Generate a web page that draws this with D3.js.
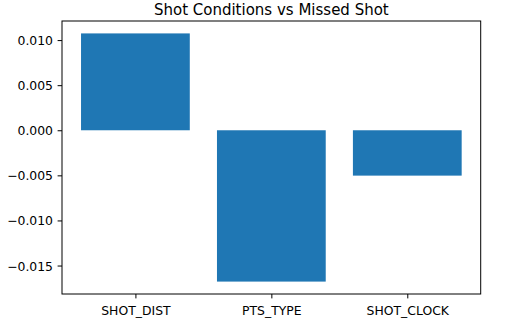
<!DOCTYPE html>
<html><head><meta charset="utf-8">
<script src="https://cdn.jsdelivr.net/npm/d3@7"></script>
<style>body{margin:0;background:#fff}svg{display:block}</style>
</head><body>
<script>
const categories = ["SHOT_DIST", "PTS_TYPE", "SHOT_CLOCK"];
const values = [0.01074, -0.01678, -0.00503];
const yTicks = [-0.015, -0.010, -0.005, 0.000, 0.005, 0.010];
const title = "Shot Conditions vs Missed Shot";

const W = 518, H = 334;
const m = {left: 62, top: 21, right: 518 - 480.7, bottom: 334 - 294};
const svg = d3.select("body").append("svg").attr("width", W).attr("height", H);
const iw = W - m.left - m.right, ih = H - m.top - m.bottom;
const g = svg.append("g").attr("transform", `translate(${m.left},${m.top})`);

const ymin = d3.min(values.concat([0])), ymax = d3.max(values.concat([0]));
const pad = (ymax - ymin) * 0.05;
const y = d3.scaleLinear().domain([ymin - pad, ymax + pad]).range([ih, 0]);
const x = d3.scaleLinear().domain([-0.54, categories.length - 1 + 0.54]).range([0, iw]);
const bw = 0.8;

g.selectAll("rect.bar").data(values).join("rect").attr("class", "bar")
  .attr("x", (d, i) => x(i - bw / 2))
  .attr("width", (d, i) => x(i + bw / 2) - x(i - bw / 2))
  .attr("y", d => y(Math.max(0, d)))
  .attr("height", d => Math.abs(y(d) - y(0)))
  .attr("fill", "#1f77b4");

const fs = "12.4px";
const fmt = d => d3.format(".3f")(d).replace("-", "\u2212");
const yAxis = d3.axisLeft(y).tickValues(yTicks).tickFormat(fmt).tickSizeInner(4.4).tickSizeOuter(0).tickPadding(4.6);
const xAxis = d3.axisBottom(x).tickValues(d3.range(categories.length)).tickFormat(i => categories[i]).tickSizeInner(4.4).tickSizeOuter(0);

const ya = g.append("g").call(yAxis);
const xa = g.append("g").attr("transform", `translate(0,${ih})`).call(xAxis);
[ya, xa].forEach(a => {
  a.select(".domain").remove();
  a.selectAll("line").attr("stroke", "#000").attr("stroke-width", 1);
  a.selectAll("text").attr("fill", "#000").style("font-family", "DejaVu Sans").style("font-size", fs);
});
ya.selectAll("text").attr("dy", "0.36em");
xa.selectAll("text").attr("y", 21).attr("dy", 0);

g.append("rect").attr("x", 0).attr("y", 0).attr("width", iw).attr("height", ih)
  .attr("fill", "none").attr("stroke", "#000").attr("stroke-width", 1);

svg.append("text").attr("x", m.left + iw / 2).attr("y", 14.5).attr("text-anchor", "middle")
  .style("font-family", "DejaVu Sans").style("font-size", "15px").attr("fill", "#000").text(title);
</script>
</body></html>
